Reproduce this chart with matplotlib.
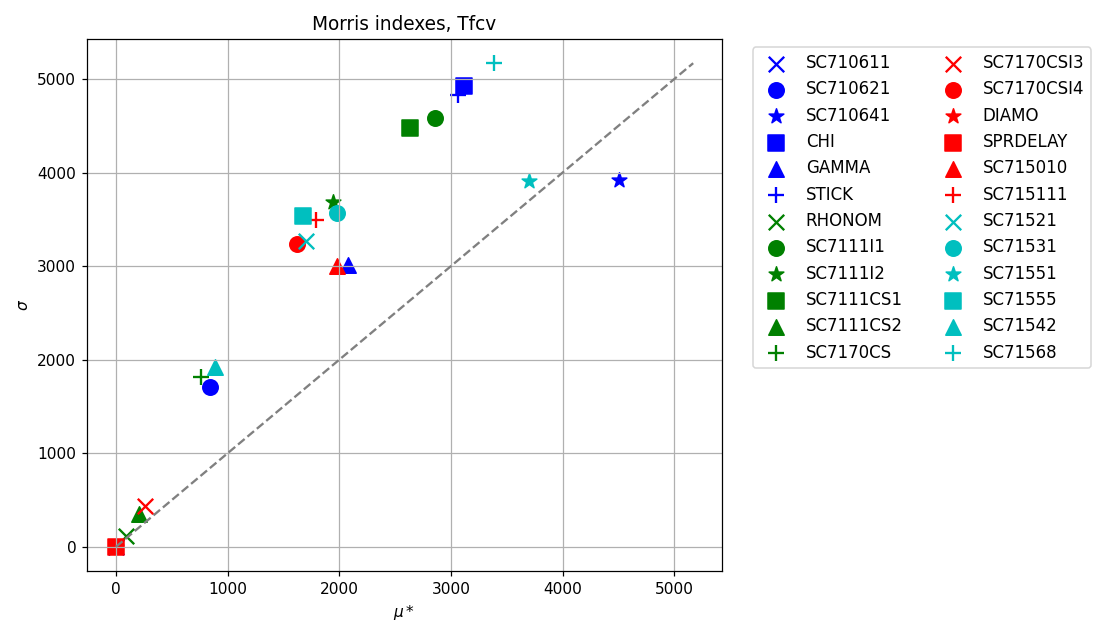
import matplotlib
matplotlib.use("Agg")
import matplotlib.pyplot as plt

names = ["SC710611", "SC710621", "SC710641", "CHI", "GAMMA", "STICK",
         "RHONOM", "SC7111I1", "SC7111I2", "SC7111CS1", "SC7111CS2", "SC7170CS",
         "SC7170CSI3", "SC7170CSI4", "DIAMO", "SPRDELAY", "SC715010", "SC715111",
         "SC71521", "SC71531", "SC71551", "SC71555", "SC71542", "SC71568"]
mu_star = [0, 840, 4510, 3120, 2080, 3060,
           90, 2860, 1940, 2630, 210, 760,
           260, 1620, 0, 0, 1980, 1790,
           1700, 1980, 3700, 1680, 890, 3390]
sigma = [0, 1710, 3920, 4930, 3010, 4830,
         120, 4580, 3690, 4480, 350, 1820,
         440, 3240, 0, 0, 3000, 3490,
         3270, 3570, 3910, 3540, 1920, 5170]

colors = ["b", "g", "r", "c"]
markers = ["x", "o", "*", "s", "^", "+"]

DPI = 111
fig = plt.figure(figsize=(1095 / DPI, 624 / DPI), dpi=DPI)
ax = fig.add_axes([0.0795, 0.0849, 0.5799, 0.8526])

for i, name in enumerate(names):
    ax.scatter(mu_star[i], sigma[i], s=100,
               color=colors[i // len(markers)],
               marker=markers[i % len(markers)], label=name)

m = max(max(mu_star), max(sigma))
ax.plot([0, m], [0, m], "--", color="gray")

ax.set_title("Morris indexes, Tfcv")
ax.set_xlabel(r"$\mu*$")
ax.set_ylabel(r"$\sigma$")
ax.grid(True)
ax.legend(bbox_to_anchor=(1.035, 1), loc="upper left", ncol=2, fontsize=10.8)

fig.savefig("out.png", dpi=DPI)
